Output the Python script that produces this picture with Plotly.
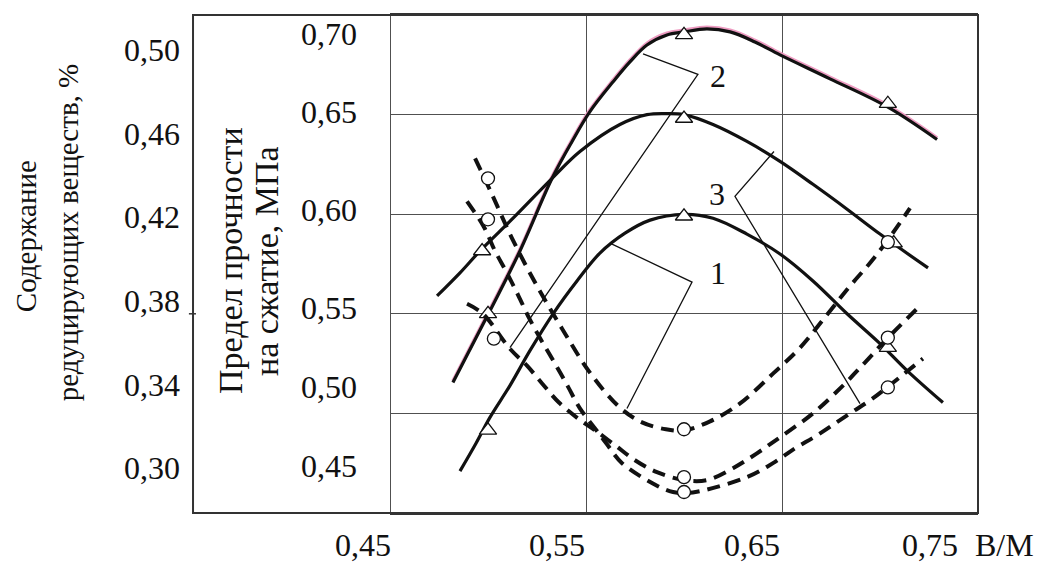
import plotly.graph_objects as go

# ---- data ----
# x axis: water/binder ratio, В/М
x_ticks = [0.45, 0.55, 0.65, 0.75]
x_tick_text = ["0,45", "0,55", "0,65", "0,75"]
x_unit = "В/М"

# left axis: compressive strength, MPa
strength_ticks = [0.45, 0.50, 0.55, 0.60, 0.65, 0.70]
strength_tick_text = ["0,45", "0,50", "0,55", "0,60", "0,65", "0,70"]

# far-left axis: reducing substances, %
reduce_ticks = [0.30, 0.34, 0.38, 0.42, 0.46, 0.50]
reduce_tick_text = ["0,30", "0,34", "0,38", "0,42", "0,46", "0,50"]

# strength curves (solid)
s1_x = [0.4857, 0.4939, 0.5010, 0.5112, 0.5214, 0.5332, 0.5454, 0.5571, 0.5699, 0.5827,
        0.6000, 0.6148, 0.6321, 0.6490, 0.6658, 0.6832, 0.7000, 0.7138, 0.7321]
s1_y = [0.4521, 0.4679, 0.4826, 0.5006, 0.5204, 0.5413, 0.5599, 0.5757, 0.5870, 0.5944,
        0.5977, 0.5955, 0.5865, 0.5752, 0.5599, 0.5413, 0.5244, 0.5091, 0.4910]
s2_x = [0.4821, 0.5010, 0.5163, 0.5327, 0.5429, 0.5520, 0.5638, 0.5724, 0.5811, 0.5913,
        0.6000, 0.6117, 0.6235, 0.6362, 0.6490, 0.6745, 0.7036, 0.7291]
s2_y = [0.5023, 0.5430, 0.5769, 0.6181, 0.6390, 0.6559, 0.6728, 0.6841, 0.6937, 0.6994,
        0.7011, 0.7028, 0.7011, 0.6954, 0.6881, 0.6745, 0.6587, 0.6401]
s3_x = [0.4740, 0.4857, 0.4959, 0.5128, 0.5327, 0.5469, 0.5673, 0.5811, 0.5913, 0.6000,
        0.6148, 0.6321, 0.6490, 0.6658, 0.6832, 0.7000, 0.7245]
s3_y = [0.5514, 0.5645, 0.5769, 0.5955, 0.6181, 0.6333, 0.6486, 0.6542, 0.6548, 0.6542,
        0.6486, 0.6390, 0.6277, 0.6147, 0.6006, 0.5865, 0.5673]

# strength measurements (triangles)
s1_pt_x = [0.500, 0.600, 0.704]
s1_pt_y = [0.4752, 0.5966, 0.5221]
s2_pt_x = [0.500, 0.600, 0.704]
s2_pt_y = [0.5413, 0.6994, 0.6604]
s3_pt_x = [0.497, 0.600, 0.707]
s3_pt_y = [0.5769, 0.6520, 0.5814]

# reducing substances curves (dashed)
r1_x = [0.4934, 0.5020, 0.5122, 0.5250, 0.5378, 0.5520, 0.5673, 0.5786, 0.5908, 0.6000,
        0.6133, 0.6286, 0.6454, 0.6592, 0.6745, 0.6847, 0.6949, 0.7036, 0.7153]
r1_y = [0.4481, 0.4310, 0.4100, 0.3871, 0.3667, 0.3457, 0.3290, 0.3219, 0.3186, 0.3181,
        0.3224, 0.3310, 0.3452, 0.3576, 0.3752, 0.3871, 0.3981, 0.4086, 0.4243]
r2_x = [0.4893, 0.4974, 0.5112, 0.5199, 0.5276, 0.5362, 0.5459, 0.5546, 0.5648, 0.5750,
        0.5862, 0.6000, 0.6117, 0.6250, 0.6372, 0.6490, 0.6658, 0.6811, 0.6923, 0.7036, 0.7189]
r2_y = [0.3786, 0.3738, 0.3571, 0.3490, 0.3405, 0.3314, 0.3238, 0.3181, 0.3110, 0.3038,
        0.2981, 0.2943, 0.2943, 0.3000, 0.3071, 0.3148, 0.3262, 0.3395, 0.3505, 0.3619, 0.3762]
r3_x = [0.4893, 0.4980, 0.5036, 0.5097, 0.5153, 0.5214, 0.5276, 0.5342, 0.5408, 0.5469,
        0.5546, 0.5607, 0.5684, 0.5867, 0.5944, 0.6005, 0.6082, 0.6321, 0.6454, 0.6566,
        0.6679, 0.6847, 0.6949, 0.7036, 0.7219]
r3_y = [0.4276, 0.4152, 0.4038, 0.3933, 0.3829, 0.3710, 0.3605, 0.3500, 0.3390, 0.3286,
        0.3190, 0.3114, 0.3024, 0.2914, 0.2886, 0.2881, 0.2890, 0.2957, 0.3024, 0.3095,
        0.3157, 0.3262, 0.3324, 0.3386, 0.3524]

# reducing substances measurements (circles)
r1_pt_x = [0.500, 0.600, 0.704]
r1_pt_y = [0.4386, 0.3186, 0.4081]
r2_pt_x = [0.503, 0.600, 0.704]
r2_pt_y = [0.3619, 0.2957, 0.3624]
r3_pt_x = [0.500, 0.600, 0.704]
r3_pt_y = [0.4190, 0.2886, 0.3386]

# curve numbers with their leader lines (strength scale)
curve_labels = ["1", "2", "3"]
label_x = [0.6173, 0.6173, 0.6168]
label_y = [0.5644, 0.6762, 0.6090]
leader1_x = [0.5622, 0.6041, 0.5709]
leader1_y = [0.5814, 0.5593, 0.4876]
leader2_x = [0.5791, 0.6071, 0.5112]
leader2_y = [0.6887, 0.6770, 0.5221]
leader3_x = [0.6459, 0.6260, 0.6898]
leader3_y = [0.6333, 0.6079, 0.4904]

# ---- figure ----
SERIF = "Liberation Serif"
BLACK = "#111111"
GRID = "#505050"

fig = go.Figure()

# helper axis carrying the horizontal grid
fig.add_trace(go.Scatter(x=[None], y=[None], yaxis="y3", showlegend=False, hoverinfo="skip"))

# pink tint peeking out above curve 2, as on the scan
fig.add_trace(go.Scatter(x=s2_x, y=[v + 0.0009 for v in s2_y], mode="lines",
                         line=dict(color="#ee9cc2", width=3.6, shape="spline"),
                         showlegend=False))

for cx, cy in [(s1_x, s1_y), (s2_x, s2_y), (s3_x, s3_y)]:
    fig.add_trace(go.Scatter(x=cx, y=cy, mode="lines",
                             line=dict(color=BLACK, width=3.2, shape="spline"),
                             showlegend=False))

for cx, cy in [(r1_x, r1_y), (r2_x, r2_y), (r3_x, r3_y)]:
    fig.add_trace(go.Scatter(x=cx, y=cy, mode="lines", yaxis="y2",
                             line=dict(color=BLACK, width=4, dash="13px,8px", shape="spline"),
                             showlegend=False))

for lx, ly in [(leader1_x, leader1_y), (leader2_x, leader2_y), (leader3_x, leader3_y)]:
    fig.add_trace(go.Scatter(x=lx, y=ly, mode="lines",
                             line=dict(color=BLACK, width=1.3),
                             showlegend=False))

for px, py in [(r1_pt_x, r1_pt_y), (r2_pt_x, r2_pt_y), (r3_pt_x, r3_pt_y)]:
    fig.add_trace(go.Scatter(x=px, y=py, mode="markers", yaxis="y2",
                             marker=dict(symbol="circle", size=13, color="white",
                                         line=dict(color=BLACK, width=1.3)),
                             showlegend=False))

for px, py in [(s1_pt_x, s1_pt_y), (s2_pt_x, s2_pt_y), (s3_pt_x, s3_pt_y)]:
    fig.add_trace(go.Scatter(x=px, y=py, mode="markers",
                             marker=dict(symbol="triangle-up", size=15, color="white",
                                         line=dict(color=BLACK, width=1.3)),
                             showlegend=False))

# the page body adds an 8 px margin, so the figure is 8 px smaller and margins are shifted
fig.update_layout(
    width=1038, height=555,
    margin=dict(l=382, r=68, t=5, b=50),
    paper_bgcolor="white", plot_bgcolor="white",
    font=dict(family=SERIF, color=BLACK),
    showlegend=False,
    xaxis=dict(range=[0.45, 0.75], tickvals=[0.55, 0.65], showticklabels=False,
               showgrid=True, gridcolor=GRID, gridwidth=1, zeroline=False,
               showline=True, mirror=True, linecolor="#333333", linewidth=2, ticks=""),
    yaxis=dict(range=[0.42836, 0.71069], tickvals=strength_ticks, showticklabels=False,
               showgrid=False, zeroline=False, anchor="free", position=0,
               showline=True, linecolor=GRID, linewidth=1, ticks=""),
    yaxis2=dict(range=[0.27857, 0.51667], tickvals=reduce_ticks, ticktext=reduce_tick_text,
                overlaying="y", anchor="free", position=0, side="left",
                showgrid=False, zeroline=False, showline=False, ticks="",
                ticklabelstandoff=210, tickfont=dict(size=32, family=SERIF)),
    yaxis3=dict(range=[0, 5], tickvals=[1, 2, 3, 4], overlaying="y", side="right",
                showgrid=True, gridcolor=GRID, gridwidth=1, showticklabels=False,
                zeroline=False, showline=False, ticks=""),
)

# outer frame that also encloses the axis titles, plus the small tick on its left side
fig.add_shape(type="rect", xref="paper", yref="paper", x0=-0.335, x1=1, y0=0, y1=1,
              line=dict(color="#333333", width=2))
fig.add_shape(type="line", xref="paper", yref="paper", x0=-0.342, x1=-0.330, y0=0.4, y1=0.4,
              line=dict(color="#333333", width=1.5))

# strength tick labels are typed unevenly on the original, nudge each one
strength_nudge = [9, 0, -10, 0, 10, 0]
for v, t, n in zip(strength_ticks, strength_tick_text, strength_nudge):
    fig.add_annotation(x=0, y=v, xref="paper", yref="y", text=t, showarrow=False,
                       xanchor="right", yanchor="middle", xshift=-31, yshift=n,
                       font=dict(size=32, family=SERIF, color=BLACK))

# x tick labels sit to the left of their grid lines on the original
x_shift = [3, 1, 0, -18]
for v, t, s in zip(x_ticks, x_tick_text, x_shift):
    fig.add_annotation(x=v, y=-0.064, xref="x", yref="paper", text=t, showarrow=False,
                       xanchor="right", yanchor="middle", xshift=s,
                       font=dict(size=32, family=SERIF, color=BLACK))
fig.add_annotation(x=0.75, y=-0.064, xref="x", yref="paper", text=x_unit, showarrow=False,
                   xanchor="left", yanchor="middle", xshift=-5,
                   font=dict(size=32, family=SERIF, color=BLACK))

# axis titles
titles = [("Содержание", -0.619, 0.556, 29), ("редуцирующих веществ, %", -0.5476, 0.562, 29),
          ("Предел прочности", -0.2721, 0.506, 34), ("на сжатие, МПа", -0.2109, 0.506, 34)]
for t, ax_, ay_, fs in titles:
    fig.add_annotation(x=ax_, y=ay_, xref="paper", yref="paper", text=t, showarrow=False,
                       textangle=-90, xanchor="center", yanchor="middle",
                       font=dict(size=fs, family=SERIF, color=BLACK))

for t, lx, ly in zip(curve_labels, label_x, label_y):
    fig.add_annotation(x=lx, y=ly, xref="x", yref="y", text=t, showarrow=False,
                       font=dict(size=32, family=SERIF, color=BLACK))

fig.write_html("out.html")
